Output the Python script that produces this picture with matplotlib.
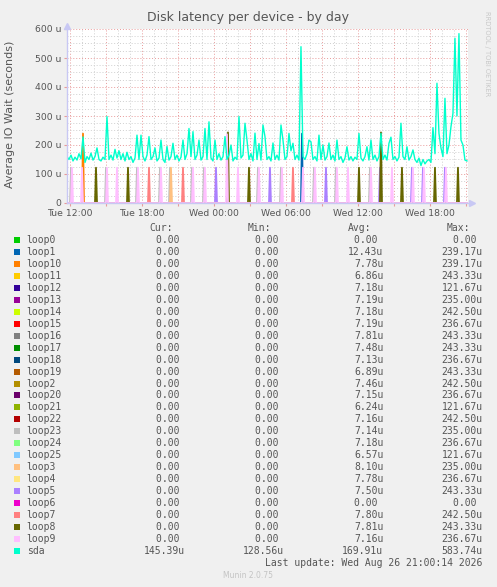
"""Munin: Disk latency per device - by day."""
import matplotlib
matplotlib.use("Agg")
import matplotlib.pyplot as plt
import numpy as np
from matplotlib.ticker import MultipleLocator, FuncFormatter

# hours relative to Tue 12:00
t_start = -0.25
t_end = 33.17

x_tick_hours = [0, 6, 12, 18, 24, 30]
x_tick_labels = ["Tue 12:00", "Tue 18:00", "Wed 00:00", "Wed 06:00", "Wed 12:00", "Wed 18:00"]

# sda, one value every 10 minutes from t_start (microseconds)
sda = [160, 150, 165, 145, 158, 148, 170, 152, 228, 140,
       160, 150, 172, 148, 160, 190, 150, 145, 158, 150,
       298, 150, 165, 148, 185, 155, 180, 150, 170, 145,
       175, 150, 160, 140, 155, 234, 150, 234, 160, 145,
       165, 229, 150, 160, 190, 145, 155, 217, 150, 140,
       195, 148, 160, 206, 150, 165, 145, 158, 217, 150,
       170, 257, 160, 246, 150, 165, 217, 148, 160, 257,
       150, 280, 155, 145, 217, 150, 170, 148, 160, 229,
       150, 165, 200, 145, 158, 150, 298, 155, 165, 275,
       217, 150, 170, 145, 241, 150, 205, 148, 269, 229,
       150, 160, 145, 207, 150, 165, 148, 269, 217, 150,
       160, 240, 180, 206, 150, 165, 148, 539, 160, 150,
       170, 217, 211, 150, 160, 145, 234, 150, 200, 148,
       160, 207, 150, 165, 145, 217, 150, 160, 140, 155,
       194, 148, 160, 145, 158, 150, 240, 155, 145, 160,
       194, 148, 217, 150, 165, 145, 160, 240, 150, 165,
       148, 206, 227, 150, 160, 145, 158, 275, 160, 150,
       194, 148, 160, 183, 150, 140, 155, 129, 150, 135,
       145, 150, 140, 260, 170, 413, 240, 190, 160, 361,
       170, 200, 263, 309, 568, 300, 584, 217, 200, 148,
       145]

# loop device spikes: hour, device on top, value, device just before, value
spike_hours = [0.19, 1.11, 2.14, 3.06, 3.89, 4.81, 5.64, 6.61, 7.61, 8.44,
               9.39, 10.28, 11.25, 12.14, 13.14, 14.03, 14.89, 15.78, 16.69, 17.67,
               18.56, 19.44, 20.39, 21.31, 22.28, 23.19, 24.11, 25.06, 25.89, 26.81,
               27.64, 28.61, 29.53, 30.39, 31.31, 32.31]
spike_top = ["loop9", "loop10", "loop8", "loop9", "loop9", "loop8", "loop9", "loop7", "loop9", "loop3",
             "loop7", "loop9", "loop9", "loop5", "loop8", "loop9", "loop8", "loop9", "loop5", "loop9",
             "loop7", "loop9", "loop9", "loop5", "loop9", "loop9", "loop8", "loop9", "loop8", "loop9",
             "loop8", "loop9", "loop9", "loop8", "loop9", "loop8"]
spike_top_val = [121.67, 239.17, 121.67, 121.67, 121.67, 121.67, 121.67, 121.67, 121.67, 121.67,
                 121.67, 121.67, 121.67, 121.67, 243.33, 121.67, 121.67, 121.67, 121.67, 121.67,
                 121.67, 121.67, 121.67, 121.67, 121.67, 121.67, 121.67, 121.67, 243.33, 121.67,
                 121.67, 121.67, 121.67, 121.67, 121.67, 121.67]
spike_low = ["loop23", "loop9", "", "loop23", "", "", "loop23", "", "loop23", "loop23",
             "", "loop23", "loop23", "", "loop9", "", "", "loop23", "", "loop23",
             "", "loop1", "loop23", "", "loop23", "", "", "loop23", "loop5", "",
             "", "loop5", "loop5", "", "loop5", ""]
spike_low_val = [121.67, 121.67, 0, 121.67, 0, 0, 121.67, 0, 121.67, 121.67,
                 0, 121.67, 121.67, 0, 236.67, 0, 0, 121.67, 0, 121.67,
                 0, 239.17, 121.67, 0, 121.67, 0, 0, 121.67, 121.67, 0,
                 0, 121.67, 121.67, 0, 121.67, 0]

names = ["loop0", "loop1", "loop10", "loop11", "loop12", "loop13", "loop14", "loop15",
         "loop16", "loop17", "loop18", "loop19", "loop2", "loop20", "loop21", "loop22",
         "loop23", "loop24", "loop25", "loop3", "loop4", "loop5", "loop6", "loop7",
         "loop8", "loop9", "sda"]
colors = ["#00cc00", "#0066b3", "#ff8000", "#ffcc00", "#330099", "#990099", "#ccff00", "#ff0000",
          "#808080", "#008f00", "#00487d", "#b35a00", "#b38f00", "#6b006b", "#8fb300", "#b30000",
          "#bebebe", "#80ff80", "#80c9ff", "#ffc080", "#ffe680", "#aa80ff", "#ee00cc", "#ff8080",
          "#666600", "#ffbfff", "#00ffcc"]
cur = ["0.00 "] * 26 + ["145.39u"]
mins = ["0.00 "] * 26 + ["128.56u"]
avgs = ["0.00 ", "12.43u", "7.78u", "6.86u", "7.18u", "7.19u", "7.18u", "7.19u",
        "7.81u", "7.48u", "7.13u", "6.89u", "7.46u", "7.15u", "6.24u", "7.16u",
        "7.14u", "7.18u", "6.57u", "8.10u", "7.78u", "7.50u", "0.00 ", "7.80u",
        "7.81u", "7.16u", "169.91u"]
maxs = ["0.00 ", "239.17u", "239.17u", "243.33u", "121.67u", "235.00u", "242.50u", "236.67u",
        "243.33u", "243.33u", "236.67u", "243.33u", "242.50u", "236.67u", "121.67u", "242.50u",
        "235.00u", "236.67u", "121.67u", "235.00u", "236.67u", "243.33u", "0.00 ", "242.50u",
        "243.33u", "236.67u", "583.74u"]

W, H = 497, 587
BG = "#f0f0f0"
TXT = "#555555"


def fx(px):
    return px / W


def fy(py):
    return 1 - py / H


fig = plt.figure(figsize=(W / 100, H / 100), dpi=100, facecolor=BG)
ax = fig.add_axes([fx(67), fy(203), (468 - 67) / W, (203 - 29) / H])
ax.set_facecolor("white")

# loop series on a 5 minute grid
t5 = np.arange(t_start, t_end + 1e-6, 5 / 60)
series = {n: np.zeros(len(t5)) for n in names[:-1]}
for h, dev, v, dev2, v2 in zip(spike_hours, spike_top, spike_top_val, spike_low, spike_low_val):
    k = int(np.argmin(np.abs(t5 - h)))
    series[dev][k] = max(series[dev][k], v)
    if dev2:
        series[dev2][k - 1] = max(series[dev2][k - 1], v2)

for n, c in zip(names[:-1], colors[:-1]):
    ax.plot(t5, series[n], color=c, lw=1.3, zorder=3)

t10 = t_start + np.arange(len(sda)) / 6
ax.plot(t10, sda, color=colors[-1], lw=1.0, zorder=4)

ax.set_xlim(t_start, t_end)
ax.set_ylim(0, 600)
ax.xaxis.set_major_locator(MultipleLocator(3))
ax.xaxis.set_minor_locator(MultipleLocator(1))
lab = dict(zip(x_tick_hours, x_tick_labels))
ax.xaxis.set_major_formatter(FuncFormatter(lambda v, p: lab.get(int(round(v)), "") if abs(v - round(v)) < 1e-6 else ""))
ax.yaxis.set_major_locator(MultipleLocator(100))
ax.yaxis.set_minor_locator(MultipleLocator(25))
ax.yaxis.set_major_formatter(FuncFormatter(lambda v, p: "0" if v == 0 else f"{int(v)} u"))

ax.grid(which="major", color="#e89a9a", linestyle=(0, (1, 2)), lw=0.7, zorder=1)
ax.grid(which="minor", color="#cfcfcf", linestyle=(0, (1, 2)), lw=0.7, zorder=1)
ax.tick_params(which="major", length=2, color="#e89a9a", labelsize=6.7, labelcolor=TXT, pad=2)
ax.tick_params(which="minor", length=0)
for s in ["top", "right"]:
    ax.spines[s].set_visible(False)
for s in ["left", "bottom"]:
    ax.spines[s].set_color("#c8c8f4")
    ax.spines[s].set_linewidth(1.0)
    ax.spines[s].set_zorder(5)
ax.plot([0], [1.02], marker="^", color="#c8c8f4", ms=4, transform=ax.transAxes, clip_on=False)
ax.plot([1.01], [0], marker=">", color="#c8c8f4", ms=4, transform=ax.transAxes, clip_on=False)

fig.text(fx(248), fy(18), "Disk latency per device - by day", ha="center", va="center",
         fontsize=9, color=TXT)
fig.text(fx(10), fy(114), "Average IO Wait (seconds)", rotation=90, ha="center", va="center",
         fontsize=8, color=TXT)
fig.text(fx(487), fy(54), "RRDTOOL / TOBI OETIKER", rotation=270, ha="center", va="center",
         fontsize=4.8, color="#c8c8c8")

# legend table
mono = dict(family="DejaVu Sans Mono", fontsize=7, color=TXT)
for x, hdr in zip([149, 248, 347.7, 446.7], ["Cur:", "Min:", "Avg:", "Max:"]):
    fig.text(fx(x), fy(227.7), hdr, ha="left", va="center", **mono)
for i, n in enumerate(names):
    y = 240 + i * 11.96
    fig.patches.append(plt.Rectangle((fx(14), fy(y + 3)), 6 / W, 6 / H, transform=fig.transFigure,
                                     facecolor=colors[i], edgecolor="none"))
    fig.text(fx(26.7), fy(y), n, ha="left", va="center", **mono)
    for xr, col in zip([185, 284.3, 383.3, 482.7], [cur, mins, avgs, maxs]):
        fig.text(fx(xr), fy(y), col[i], ha="right", va="center", **mono)
fig.text(fx(482.7), fy(563.3), "Last update: Wed Aug 26 21:00:14 2026", ha="right", va="center", **mono)
fig.text(fx(248), fy(575.7), "Munin 2.0.75", ha="center", va="center", fontsize=5.5, color="#c4c4c4")

fig.savefig("out.png", dpi=100, facecolor=BG)
